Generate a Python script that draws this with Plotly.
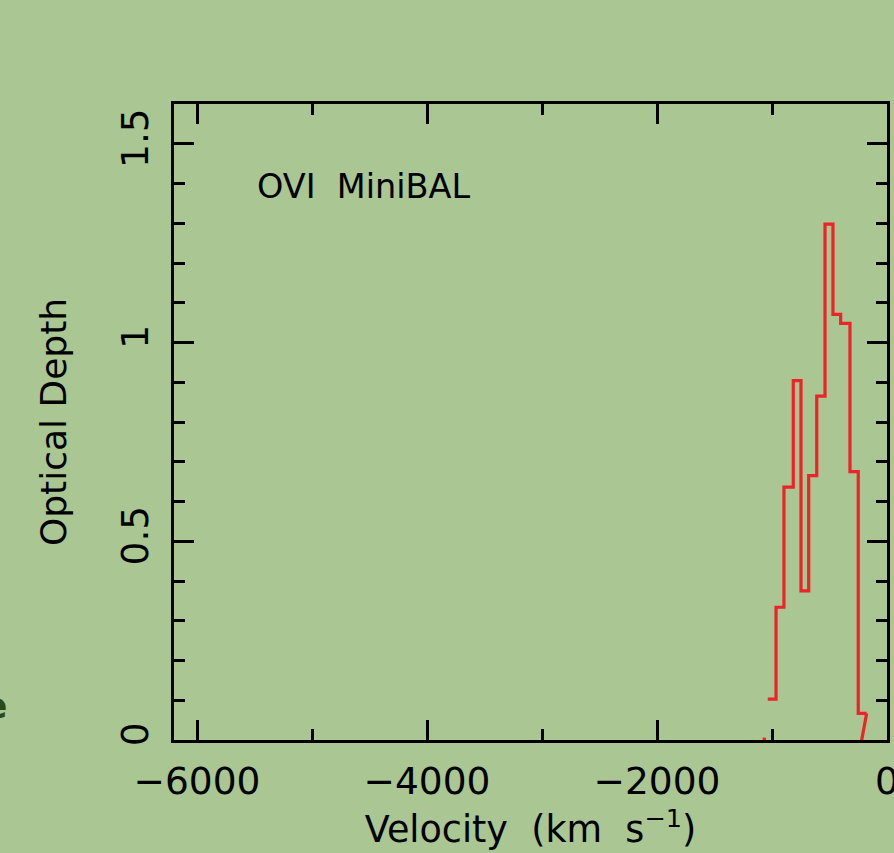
import plotly.graph_objects as go

# Bin edges (km/s) and optical depth per bin for the O VI mini-BAL trough
bin_edges = [-1037, -965, -896, -815, -748, -681, -611, -539, -470, -403, -322, -250, -177]
tau_values = [0.103, 0.334, 0.636, 0.904, 0.375, 0.665, 0.865, 1.298, 1.071, 1.048, 0.675, 0.067]

# Short spectrum pieces that run below zero on either side of the trough
tail_right_v = [-177, -239]
tail_right_tau = [0.067, -0.03]
tail_left_v = [-1066, -1074]
tail_left_tau = [0.006, -0.03]

x_ticks = [-6000, -4000, -2000, 0]
y_ticks = [0, 0.5, 1, 1.5]

BG = "#a9c693"
RED = "#ee2229"
FONT = "DejaVu Sans"

step_x = bin_edges
step_y = tau_values + [tau_values[-1]]

fig = go.Figure()
fig.add_trace(go.Scatter(x=step_x, y=step_y, mode="lines",
                         line=dict(color=RED, width=3.2, shape="hv"),
                         showlegend=False, hoverinfo="skip"))
fig.add_trace(go.Scatter(x=tail_right_v, y=tail_right_tau, mode="lines",
                         line=dict(color=RED, width=3.2),
                         showlegend=False, hoverinfo="skip"))
fig.add_trace(go.Scatter(x=tail_left_v, y=tail_left_tau, mode="lines",
                         line=dict(color=RED, width=3.2),
                         showlegend=False, hoverinfo="skip"))

axis_common = dict(
    showline=True, linecolor="black", linewidth=3, mirror="ticks",
    ticks="inside", ticklen=20, tickwidth=2.5, tickcolor="black",
    showgrid=False, zeroline=False,
    tickfont=dict(family=FONT, size=37.5, color="black"),
    ticklabeloverflow="allow",
)

fig.update_xaxes(
    range=[-6200, 0], tickvals=x_ticks,
    minor=dict(dtick=1000, tick0=0, ticks="inside", ticklen=11,
               tickwidth=2.5, tickcolor="black"),
    title=dict(text="Velocity\u00a0\u00a0(km\u00a0\u00a0s<sup>\u22121</sup>)",
               font=dict(family=FONT, size=36.5, color="black"), standoff=2),
    ticklabelstandoff=6,
    **axis_common,
)
fig.update_yaxes(
    range=[0, 1.6], tickvals=y_ticks, tickangle=-90,
    minor=dict(dtick=0.1, tick0=0, ticks="inside", ticklen=11,
               tickwidth=2.5, tickcolor="black"),
    title=dict(text="Optical Depth",
               font=dict(family=FONT, size=36, color="black"), standoff=36),
    ticklabelstandoff=8,
    **axis_common,
)

fig.add_annotation(
    text="OVI\u00a0\u00a0MiniBAL", xref="paper", yref="paper",
    x=0.113, y=0.870, xanchor="left", yanchor="middle", showarrow=False,
    font=dict(family=FONT, size=33.5, color="black"),
)
# Fragment of neighbouring lettering at the left edge
fig.add_annotation(
    text="<b>e</b>", xref="paper", yref="paper",
    x=-0.27, y=0.055, xanchor="left", yanchor="middle", showarrow=False,
    font=dict(family=FONT, size=36, color="#2b4a1c"),
)

fig.update_layout(
    width=894, height=853,
    margin=dict(l=174, r=7, t=104, b=113, autoexpand=False),
    paper_bgcolor=BG, plot_bgcolor=BG,
    font=dict(family=FONT, color="black"),
)

fig.write_html("out.html")
